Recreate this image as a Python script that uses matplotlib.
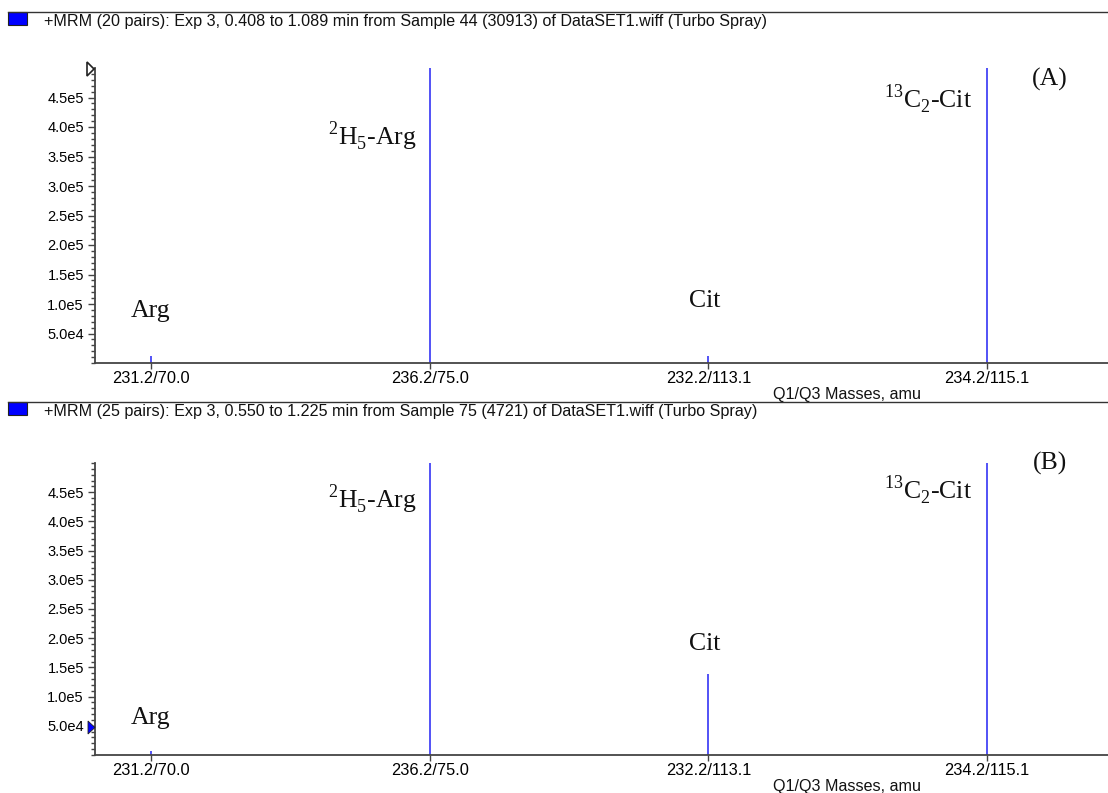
import matplotlib.pyplot as plt
from matplotlib.patches import Rectangle, Polygon
from matplotlib.lines import Line2D
from matplotlib.ticker import MultipleLocator

plt.rcParams['font.family'] = ['Liberation Sans', 'DejaVu Sans']
plt.rcParams['mathtext.fontset'] = 'custom'
plt.rcParams['mathtext.rm'] = 'Liberation Serif'

# data
transitions = ["231.2/70.0", "236.2/75.0", "232.2/113.1", "234.2/115.1"]
compounds = ["Arg", "$^{2}$H$_{5}$-Arg", "Cit", "$^{13}$C$_{2}$-Cit"]
intensity_a = [1.2e4, 6.0e5, 1.2e4, 6.0e5]   # internal standards go off scale
intensity_b = [7.0e3, 6.0e5, 1.39e5, 6.0e5]
yticks = [5e4, 1e5, 1.5e5, 2e5, 2.5e5, 3e5, 3.5e5, 4e5, 4.5e5]
ytick_labels = ["5.0e4", "1.0e5", "1.5e5", "2.0e5", "2.5e5",
                "3.0e5", "3.5e5", "4.0e5", "4.5e5"]
headers = [
    "+MRM (20 pairs): Exp 3, 0.408 to 1.089 min from Sample 44 (30913) of DataSET1.wiff (Turbo Spray)",
    "+MRM (25 pairs): Exp 3, 0.550 to 1.225 min from Sample 75 (4721) of DataSET1.wiff (Turbo Spray)",
]
panel_tags = ["(A)", "(B)"]

W, H = 1108, 793
fig = plt.figure(figsize=(W / 100, H / 100), dpi=100)


def fx(x):
    return x / W


def fy(y):
    return 1 - y / H


# label placement (x in category units, y in counts, baseline)
label_pos = {
    "A": [(0.0, "center", 7.8e4), (0.955, "right", 3.70e5),
          (1.985, "center", 9.5e4), (2.946, "right", 4.32e5)],
    "B": [(0.0, "center", 5.3e4), (0.955, "right", 4.23e5),
          (1.985, "center", 1.80e5), (2.946, "right", 4.37e5)],
}
tag_y = {"A": 4.71e5, "B": 4.88e5}

panels = [
    ("A", intensity_a, 12, 68, 363),
    ("B", intensity_b, 402, 463, 755),
]

ink = "#444444"
peak_color = "#3535f5"
x = list(range(len(transitions)))

for (key, values, head_y, top, bottom), header, tag in zip(panels, headers, panel_tags):
    # header strip
    fig.add_artist(Line2D([fx(8), 1.0], [fy(head_y), fy(head_y)], color="#333333", lw=1.0))
    fig.add_artist(Rectangle((fx(8), fy(head_y + 13)), fx(19), 13 / H,
                             facecolor="#0000ff", edgecolor="#222222", lw=0.8))
    fig.text(fx(44), fy(head_y + 9.5), header, fontsize=11.6, va="center", color="#111111")

    ax = fig.add_axes([fx(95), fy(bottom), 1 - fx(95), (bottom - top) / H])
    ax.vlines(x, 0, values, color=peak_color, lw=1.2)
    ax.set_xlim(-0.201, 3.434)
    ax.set_ylim(0, 5.0e5)

    for spine in ["top", "right"]:
        ax.spines[spine].set_visible(False)
    for spine in ["left", "bottom"]:
        ax.spines[spine].set_color(ink)
        ax.spines[spine].set_linewidth(1.3)

    ax.set_xticks(x)
    ax.set_xticklabels(transitions, fontsize=11.8)
    ax.set_yticks(yticks)
    ax.set_yticklabels(ytick_labels, fontsize=10.5)
    ax.yaxis.set_minor_locator(MultipleLocator(1e4))
    ax.tick_params(axis="x", direction="out", length=4, width=1, color=ink, pad=1.5)
    ax.tick_params(axis="y", which="major", direction="out", length=5, width=1, color=ink, pad=3)
    ax.tick_params(axis="y", which="minor", direction="out", length=3, width=1, color=ink)

    for name, (lx, ha, ly) in zip(compounds, label_pos[key]):
        ax.text(lx, ly, name, ha=ha, va="baseline", fontsize=18.5,
                family="Liberation Serif", color="#111111")
    ax.text(3.226, tag_y[key], tag, ha="center", va="baseline", fontsize=18.5,
            family="Liberation Serif", color="#111111")

    fig.text(fx(847), fy(bottom + 31), "Q1/Q3 Masses, amu", fontsize=11.6,
             ha="center", va="center", color="#111111")

# cursor markers on the y axes
fig.add_artist(Polygon([(fx(87), fy(62)), (fx(87), fy(76)), (fx(94), fy(69))],
                       closed=True, facecolor="white", edgecolor="#222222", lw=1.2))
fig.add_artist(Polygon([(fx(88), fy(721)), (fx(88), fy(734)), (fx(95), fy(727.5))],
                       closed=True, facecolor="#0000ff", edgecolor="#222222", lw=0.6))

fig.savefig("out.png", dpi=100)
